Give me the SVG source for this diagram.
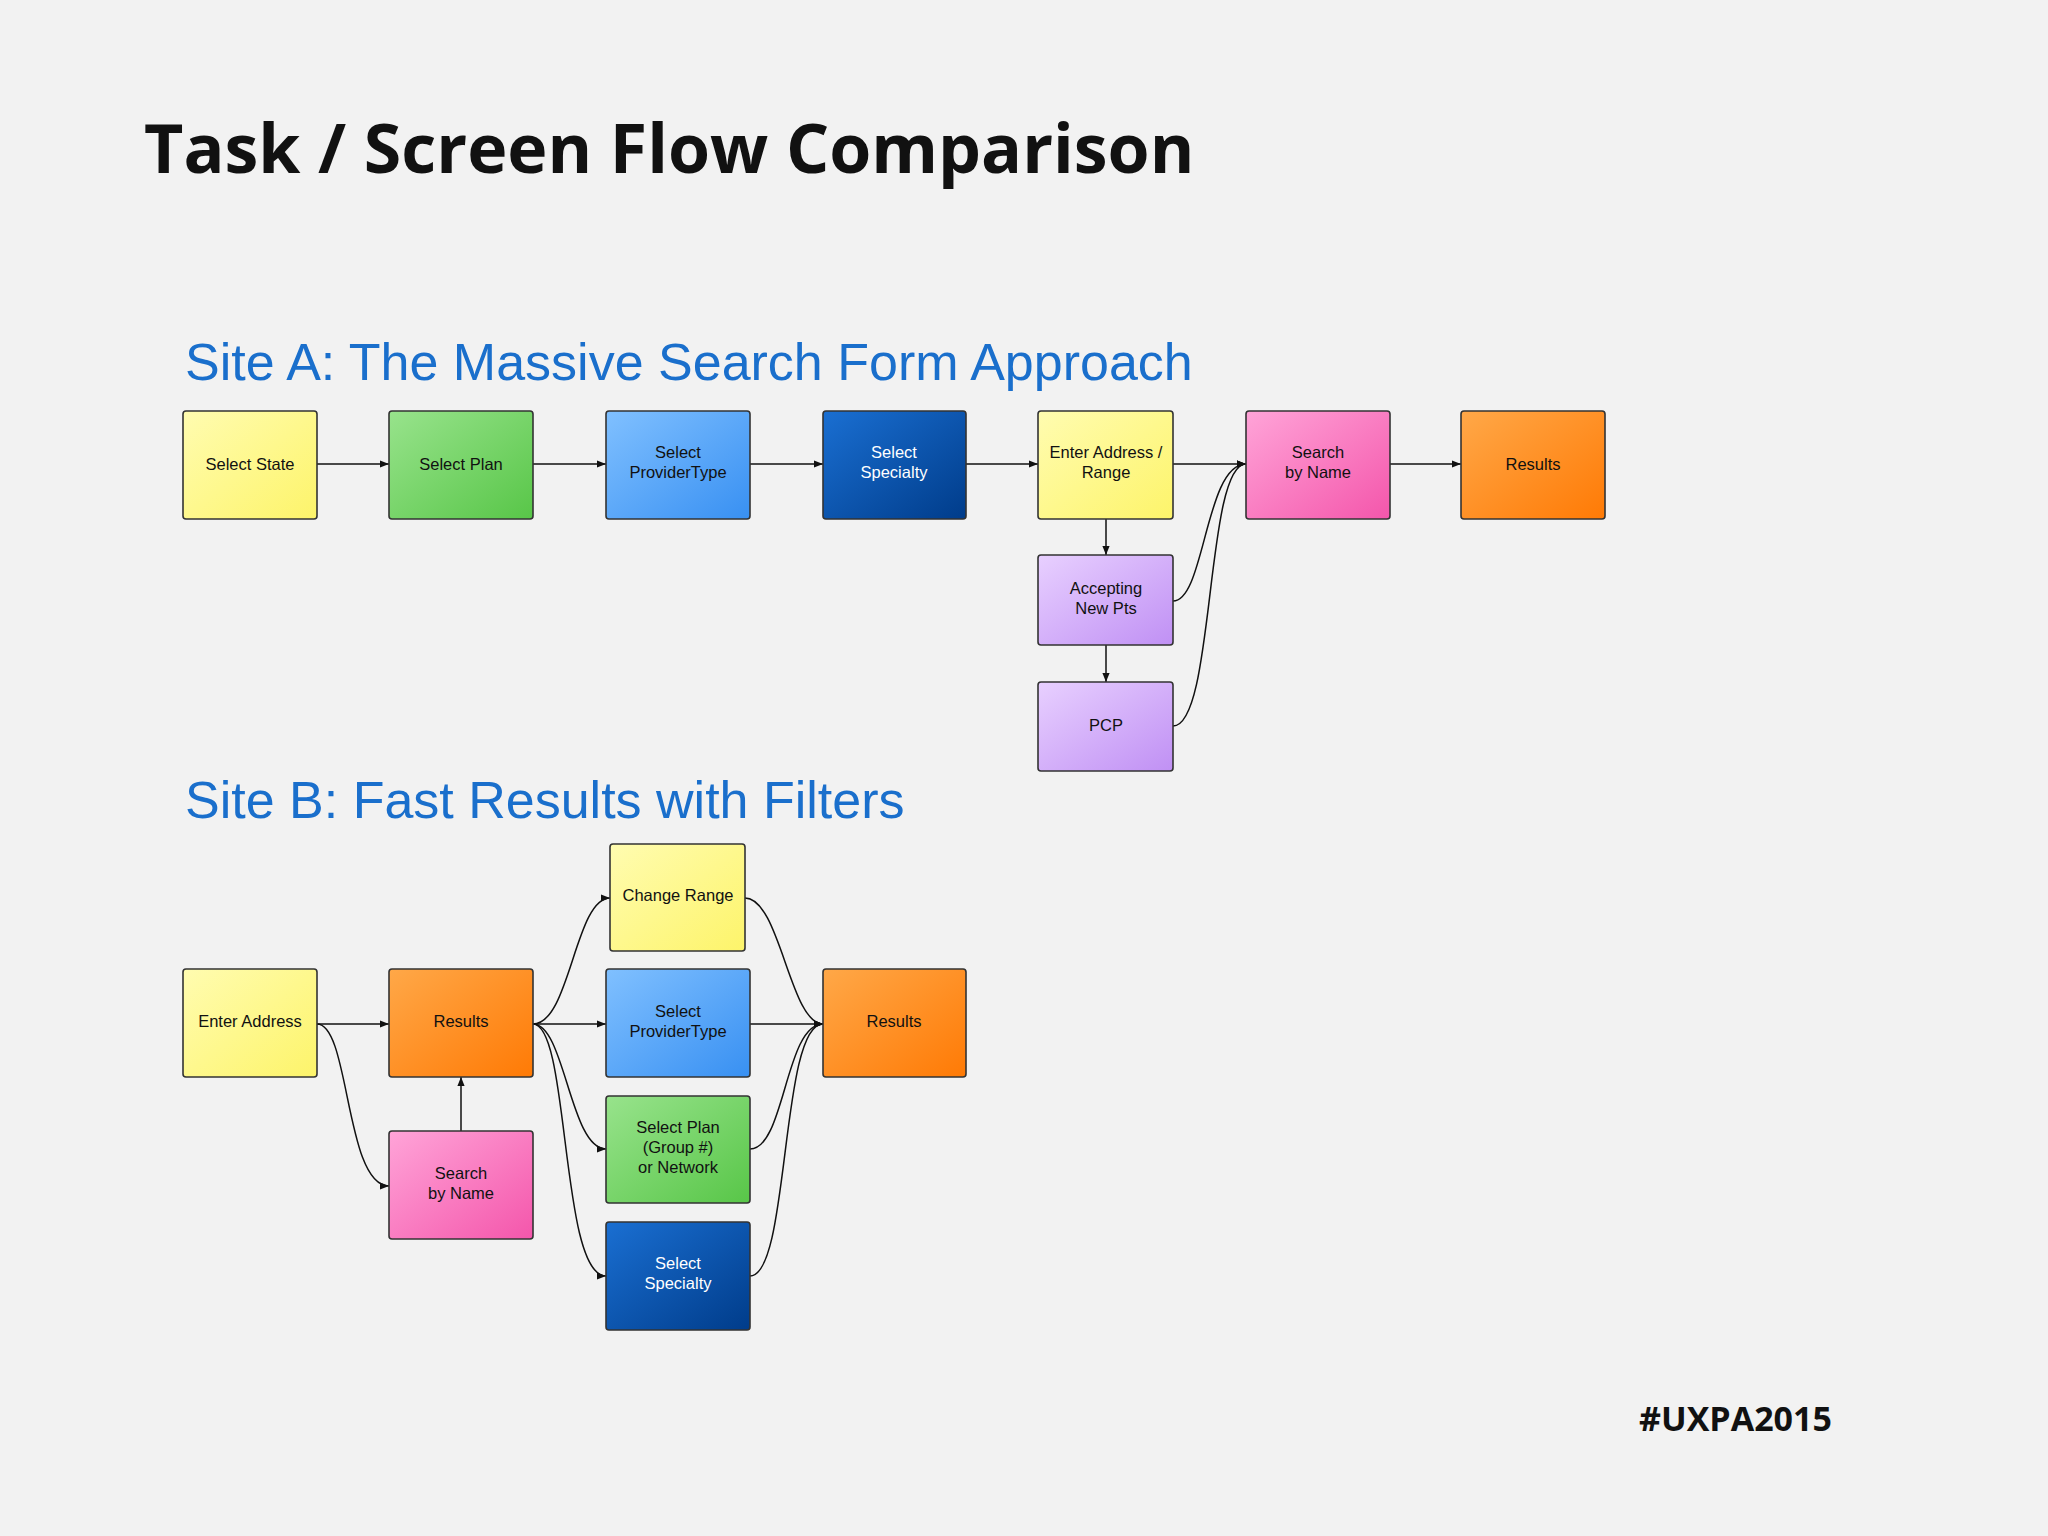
<svg xmlns="http://www.w3.org/2000/svg" width="2048" height="1536" viewBox="0 0 2048 1536">
<defs>
<linearGradient id="gy" x1="0" y1="0" x2="1" y2="1"><stop offset="0" stop-color="#fffcb0"/><stop offset="1" stop-color="#fdf46a"/></linearGradient>
<linearGradient id="gg" x1="0" y1="0" x2="1" y2="1"><stop offset="0" stop-color="#98e38c"/><stop offset="1" stop-color="#58c648"/></linearGradient>
<linearGradient id="gl" x1="0" y1="0" x2="1" y2="1"><stop offset="0" stop-color="#80c0ff"/><stop offset="1" stop-color="#3890f2"/></linearGradient>
<linearGradient id="gd" x1="0" y1="0" x2="1" y2="1"><stop offset="0" stop-color="#1a6fd2"/><stop offset="1" stop-color="#003c8a"/></linearGradient>
<linearGradient id="go" x1="0" y1="0" x2="1" y2="1"><stop offset="0" stop-color="#ffa848"/><stop offset="1" stop-color="#ff7a05"/></linearGradient>
<linearGradient id="gp" x1="0" y1="0" x2="1" y2="1"><stop offset="0" stop-color="#ffa4d8"/><stop offset="1" stop-color="#f456ab"/></linearGradient>
<linearGradient id="gv" x1="0" y1="0" x2="1" y2="1"><stop offset="0" stop-color="#e8d0ff"/><stop offset="1" stop-color="#c090f4"/></linearGradient>
<marker id="ar" viewBox="0 0 10 10" refX="10" refY="5" markerWidth="9" markerHeight="9" orient="auto" markerUnits="userSpaceOnUse"><path d="M0,1 L10,5 L0,9 z" fill="#111"/></marker>
<style>
.n rect{stroke:#333;stroke-width:1.6}
.n text{font-family:"Liberation Sans",Arial,sans-serif;font-size:16.5px;text-anchor:middle;fill:#111}
.w text{fill:#fff}
.c path{fill:none;stroke:#111;stroke-width:1.5;marker-end:url(#ar)}
.h{font-family:"Liberation Sans",Arial,sans-serif;font-size:52px;fill:#1a6fcc}
</style>
</defs>
<rect width="2048" height="1536" fill="#f2f2f2"/>
<text x="144" y="173" font-family="'Open Sans','DejaVu Sans',sans-serif" font-weight="bold" font-size="68" fill="#111">Task / Screen Flow Comparison</text>
<text class="h" x="185" y="380">Site A: The Massive Search Form Approach</text>
<text class="h" x="185" y="818">Site B: Fast Results with Filters</text>
<text x="1639" y="1431" font-family="'Open Sans','DejaVu Sans',sans-serif" font-weight="bold" font-size="34" fill="#111">#UXPA2015</text>

<g class="c">
<path d="M317,464 L389,464"/>
<path d="M533,464 L606,464"/>
<path d="M750,464 L823,464"/>
<path d="M966,464 L1038,464"/>
<path d="M1173,464 L1246,464"/>
<path d="M1390,464 L1461,464"/>
<path d="M1106,519 L1106,555"/>
<path d="M1106,645 L1106,682"/>
<path d="M1173,601 C1205,601 1205,464 1246,464"/>
<path d="M1173,726 C1215,726 1205,464 1246,464"/>
<path d="M317,1024 L389,1024"/>
<path d="M317,1024 C350,1024 345,1186 389,1186"/>
<path d="M461,1131 L461,1077"/>
<path d="M533,1024 C570,1024 575,898 610,898"/>
<path d="M533,1024 L606,1024"/>
<path d="M533,1024 C565,1024 570,1149 606,1149"/>
<path d="M533,1024 C570,1024 560,1276 606,1276"/>
<path d="M745,898 C780,898 790,1024 823,1024"/>
<path d="M750,1024 L823,1024"/>
<path d="M750,1149 C785,1149 785,1024 823,1024"/>
<path d="M750,1276 C790,1276 780,1024 823,1024"/>
</g>

<g id="a1" class="n"><rect x="183" y="411" width="134" height="108" rx="3" fill="url(#gy)"/><text x="250" y="470">Select State</text></g>
<g id="a2" class="n"><rect x="389" y="411" width="144" height="108" rx="3" fill="url(#gg)"/><text x="461" y="470">Select Plan</text></g>
<g id="a3" class="n"><rect x="606" y="411" width="144" height="108" rx="3" fill="url(#gl)"/><text x="678" y="458">Select</text><text x="678" y="478">ProviderType</text></g>
<g id="a4" class="n w"><rect x="823" y="411" width="143" height="108" rx="3" fill="url(#gd)"/><text x="894" y="458">Select</text><text x="894" y="478">Specialty</text></g>
<g id="a5" class="n"><rect x="1038" y="411" width="135" height="108" rx="3" fill="url(#gy)"/><text x="1106" y="458">Enter Address /</text><text x="1106" y="478">Range</text></g>
<g id="a6" class="n"><rect x="1246" y="411" width="144" height="108" rx="3" fill="url(#gp)"/><text x="1318" y="458">Search</text><text x="1318" y="478">by Name</text></g>
<g id="a7" class="n"><rect x="1461" y="411" width="144" height="108" rx="3" fill="url(#go)"/><text x="1533" y="470">Results</text></g>
<g id="a8" class="n"><rect x="1038" y="555" width="135" height="90" rx="3" fill="url(#gv)"/><text x="1106" y="594">Accepting</text><text x="1106" y="614">New Pts</text></g>
<g id="a9" class="n"><rect x="1038" y="682" width="135" height="89" rx="3" fill="url(#gv)"/><text x="1106" y="731">PCP</text></g>

<g id="b1" class="n"><rect x="183" y="969" width="134" height="108" rx="3" fill="url(#gy)"/><text x="250" y="1027">Enter Address</text></g>
<g id="b2" class="n"><rect x="389" y="969" width="144" height="108" rx="3" fill="url(#go)"/><text x="461" y="1027">Results</text></g>
<g id="b3" class="n"><rect x="389" y="1131" width="144" height="108" rx="3" fill="url(#gp)"/><text x="461" y="1179">Search</text><text x="461" y="1199">by Name</text></g>
<g id="b4" class="n"><rect x="610" y="844" width="135" height="107" rx="3" fill="url(#gy)"/><text x="678" y="901">Change Range</text></g>
<g id="b5" class="n"><rect x="606" y="969" width="144" height="108" rx="3" fill="url(#gl)"/><text x="678" y="1017">Select</text><text x="678" y="1037">ProviderType</text></g>
<g id="b6" class="n"><rect x="606" y="1096" width="144" height="107" rx="3" fill="url(#gg)"/><text x="678" y="1133">Select Plan</text><text x="678" y="1153">(Group #)</text><text x="678" y="1173">or Network</text></g>
<g id="b7" class="n w"><rect x="606" y="1222" width="144" height="108" rx="3" fill="url(#gd)"/><text x="678" y="1269">Select</text><text x="678" y="1289">Specialty</text></g>
<g id="b8" class="n"><rect x="823" y="969" width="143" height="108" rx="3" fill="url(#go)"/><text x="894" y="1027">Results</text></g>
</svg>
